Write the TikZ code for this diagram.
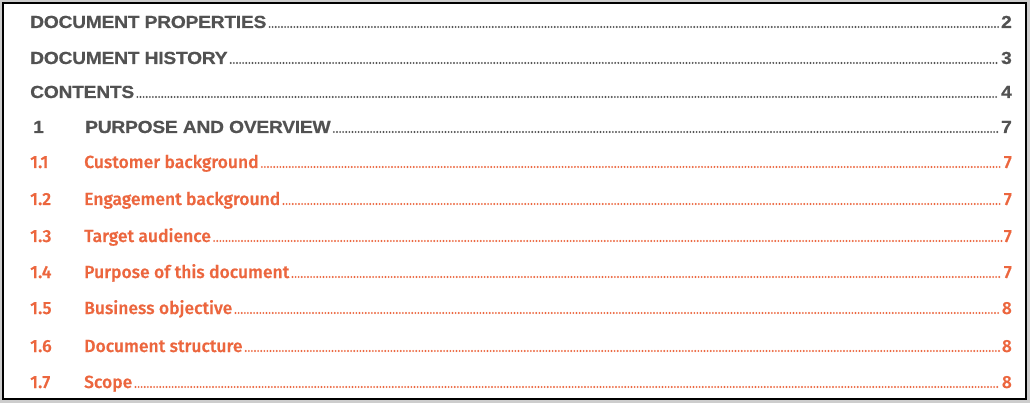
\documentclass[tikz,border=0pt]{standalone}
\usepackage{fontspec}
\setmainfont{Liberation Sans}
\newfontfamily\headfont{Liberation Sans}[FakeStretch=1.1, LetterSpace=-1.5, FakeBold=0.5]
\newfontfamily\tocfont{Fira Sans Medium}[FakeBold=0.5]
\usepackage{tikz}
\definecolor{tocgray}{RGB}{82,82,82}
\definecolor{tocorange}{RGB}{236,102,62}
\definecolor{pagegray}{RGB}{205,205,205}
\tikzset{
  headtext/.style={anchor=base west, inner sep=0pt, text=tocgray, font=\fontsize{17.5}{19}\headfont\bfseries},
  headpage/.style={headtext, anchor=base east},
  subtext/.style={anchor=base west, inner sep=0pt, text=tocorange, font=\fontsize{17.5}{19}\tocfont},
  subpage/.style={subtext, anchor=base east},
  leader/.style={line width=2.1pt, line cap=round, dash pattern=on 0pt off 3.1pt, shorten <=3pt, shorten >=2pt}
}

\begin{document}
\begin{tikzpicture}[x=1pt, y=-1pt]
\useasboundingbox (0,0) rectangle (1030,403);
\fill[pagegray] (0,0) rectangle (1030,403);
\draw[fill=white, line width=1.5pt] (3,3) rectangle (1026,399);
% front matter
\node[headtext] (h1) at (30,28) {DOCUMENT PROPERTIES};
\node[headpage] (p1) at (1012,28) {2};
\node[headtext] (h2) at (30,64) {DOCUMENT HISTORY};
\node[headpage] (p2) at (1012,64) {3};
\node[headtext] (h3) at (30,98) {CONTENTS};
\node[headpage] (p3) at (1012,98) {4};
\foreach \i in {1,2,3}
\draw[leader, tocgray] ([yshift=1pt]h\i.base east) -- ([yshift=1pt]p\i.base west);
% chapter 1
\node[headtext] (n4) at (33,133) {1};
\node[headtext] (h4) at (85,133) {PURPOSE AND OVERVIEW};
\node[headpage] (p4) at (1012,133) {7};
\draw[leader, tocgray] ([yshift=1pt]h4.base east) -- ([yshift=1pt]p4.base west);
% sections
\foreach \i/\y/\t/\p in {1/168/Customer background/7,
                          2/205/Engagement background/7,
                          3/242/Target audience/7,
                          4/278/Purpose of this document/7,
                          5/314/Business objective/8,
                          6/352/Document structure/8,
                          7/388/Scope/8}{
\node[subtext] (sn\i) at (30,\y) {1.\i};
\node[subtext] (s\i) at (84,\y) {\t};
\node[subpage] (sp\i) at (1012,\y) {\p};
\draw[leader, tocorange] ([yshift=1pt]s\i.base east) -- ([yshift=1pt]sp\i.base west);
}
\end{tikzpicture}
\end{document}
